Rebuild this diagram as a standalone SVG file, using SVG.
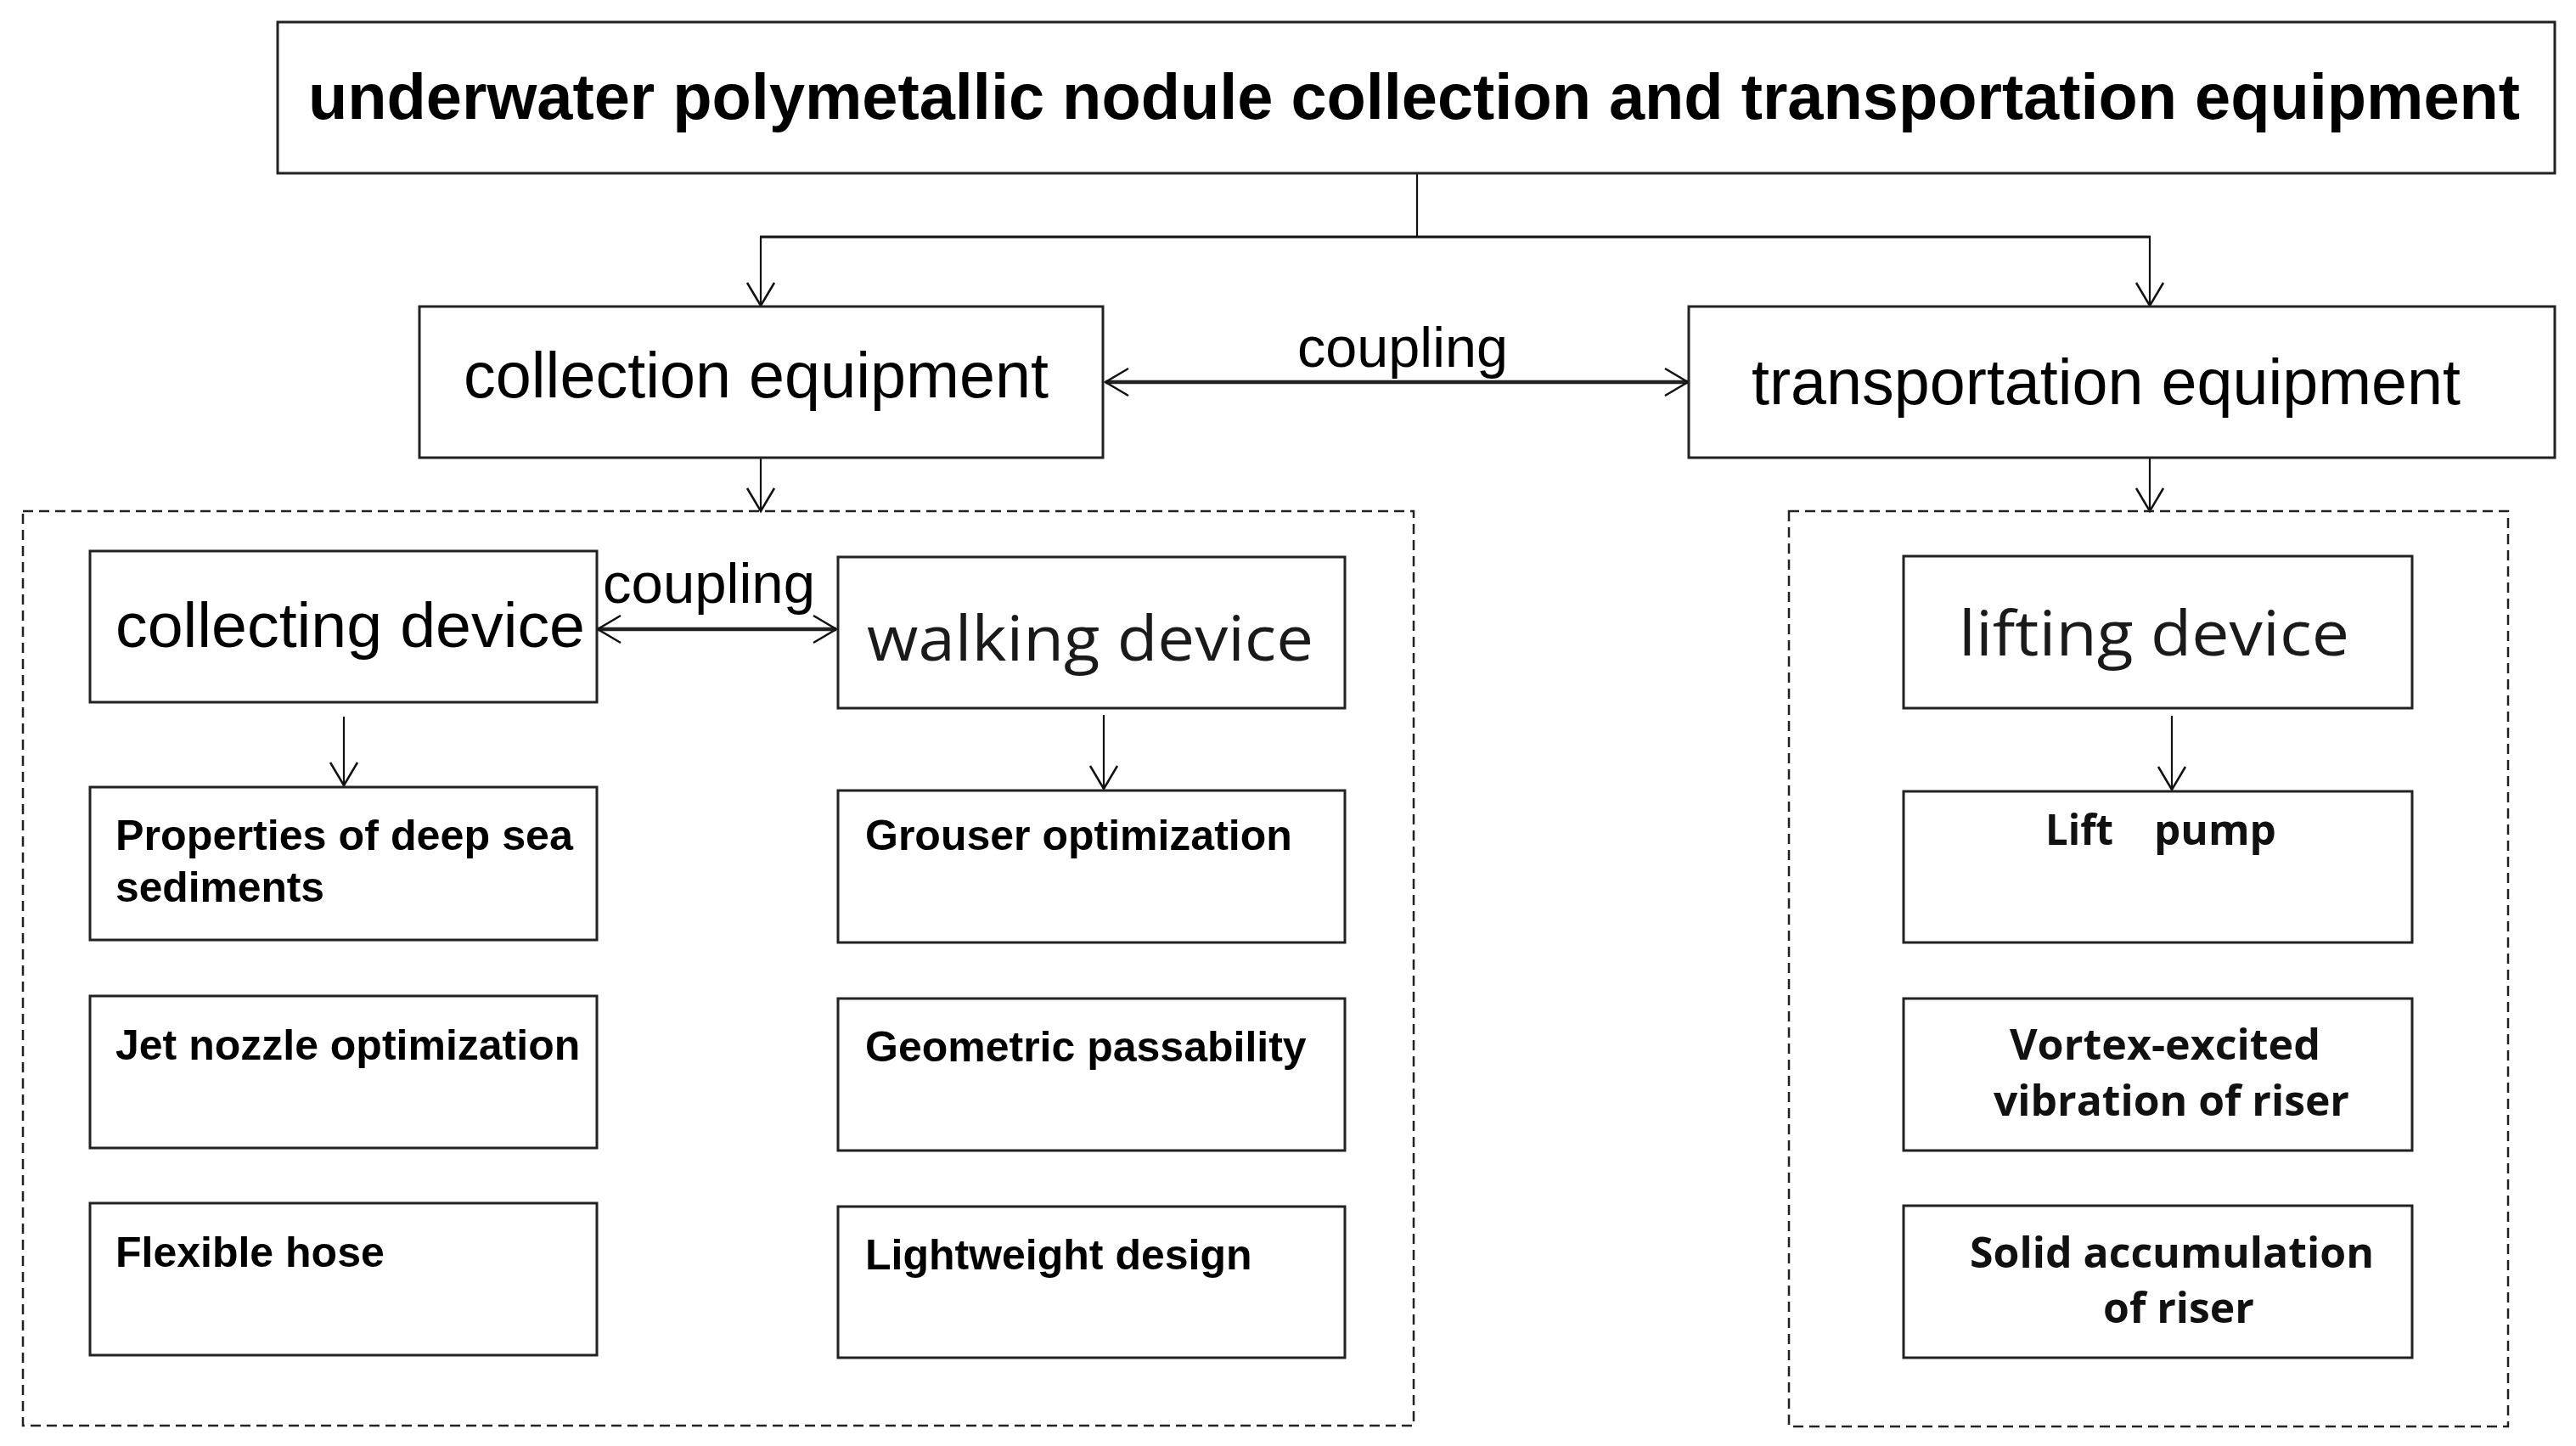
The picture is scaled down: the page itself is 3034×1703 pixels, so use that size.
<svg xmlns="http://www.w3.org/2000/svg" width="3034" height="1703" viewBox="0 0 3034 1703">
<defs>
<style>
.box{fill:#fff;stroke:#222;stroke-width:3}
.dash{fill:none;stroke:#222;stroke-width:2.5;stroke-dasharray:12 7}
.ln{fill:none;stroke:#111;stroke-width:2.2}
.thk{fill:none;stroke:#222;stroke-width:4.5}
.ar{font-family:"Liberation Sans",Arial,sans-serif;fill:#000}
.arb{font-family:"Liberation Sans",Arial,sans-serif;font-weight:bold;fill:#000}
.hum{font-family:"Open Sans","Noto Sans",sans-serif;fill:#1a1a1a}
.humb{font-family:"Open Sans","Noto Sans",sans-serif;font-weight:bold;fill:#111}
</style>
<marker id="ah" viewBox="0 0 32 36" markerWidth="32" markerHeight="36" refX="29" refY="18" orient="auto-start-reverse" markerUnits="userSpaceOnUse">
<path d="M2,2 L29,18 L2,34" fill="none" stroke="#111" stroke-width="2.5"/>
</marker>
</defs>
<rect width="3034" height="1703" fill="#fff"/>

<g id="connectors">
<line class="ln" x1="1669" y1="204" x2="1669" y2="279"/>
<line class="ln" style="stroke-width:3" x1="895" y1="279" x2="2533" y2="279"/>
<line class="ln" x1="896" y1="279" x2="896" y2="360" marker-end="url(#ah)"/>
<line class="ln" x1="2532" y1="279" x2="2532" y2="360" marker-end="url(#ah)"/>
<line class="thk" x1="1302" y1="450" x2="1988" y2="450" marker-start="url(#ah)" marker-end="url(#ah)"/>
<line class="ln" x1="896" y1="539" x2="896" y2="602" marker-end="url(#ah)"/>
<line class="ln" x1="2532" y1="540" x2="2532" y2="602" marker-end="url(#ah)"/>
<line class="thk" x1="704" y1="741" x2="985" y2="741" marker-start="url(#ah)" marker-end="url(#ah)"/>
<line class="ln" x1="405" y1="844" x2="405" y2="925" marker-end="url(#ah)"/>
<line class="ln" x1="1300" y1="842" x2="1300" y2="929" marker-end="url(#ah)"/>
<line class="ln" x1="2558" y1="843" x2="2558" y2="930" marker-end="url(#ah)"/>
<text class="ar" x="1528" y="432" font-size="67" textLength="248" lengthAdjust="spacingAndGlyphs">coupling</text>
<text class="ar" x="710" y="710" font-size="67" textLength="250" lengthAdjust="spacingAndGlyphs">coupling</text>
</g>

<g id="groups">
<rect class="dash" x="27" y="602" width="1638" height="1077"/>
<rect class="dash" x="2107" y="602" width="847" height="1078"/>
</g>

<g id="root">
<rect class="box" x="327" y="26" width="2682" height="178"/>
<text class="arb" x="363" y="140" font-size="76" textLength="2605" lengthAdjust="spacingAndGlyphs">underwater polymetallic nodule collection and transportation equipment</text>
</g>

<g id="collection-equipment">
<rect class="box" x="494" y="361" width="805" height="178"/>
<text class="ar" x="546" y="468" font-size="76" textLength="689" lengthAdjust="spacingAndGlyphs">collection equipment</text>
</g>

<g id="transportation-equipment">
<rect class="box" x="1989" y="361" width="1020" height="178"/>
<text class="ar" x="2063" y="476" font-size="76" textLength="835" lengthAdjust="spacingAndGlyphs">transportation equipment</text>
</g>

<g id="collecting-device">
<rect class="box" x="106" y="649" width="597" height="178"/>
<text class="ar" x="136" y="762" font-size="75" textLength="553" lengthAdjust="spacingAndGlyphs">collecting device</text>
</g>

<g id="walking-device">
<rect class="box" x="987" y="656" width="597" height="178"/>
<text class="hum" x="1021" y="778" font-size="74" textLength="526" lengthAdjust="spacingAndGlyphs">walking device</text>
</g>

<g id="properties">
<rect class="box" x="106" y="927" width="597" height="180"/>
<text class="arb" font-size="50"><tspan x="136" y="1001" textLength="539" lengthAdjust="spacingAndGlyphs">Properties of deep sea</tspan><tspan x="136" y="1062" textLength="246" lengthAdjust="spacingAndGlyphs">sediments</tspan></text>
</g>

<g id="jet-nozzle">
<rect class="box" x="106" y="1173" width="597" height="179"/>
<text class="arb" x="136" y="1248" font-size="50">Jet nozzle optimization</text>
</g>

<g id="flexible-hose">
<rect class="box" x="106" y="1417" width="597" height="179"/>
<text class="arb" x="136" y="1492" font-size="50">Flexible hose</text>
</g>

<g id="grouser">
<rect class="box" x="987" y="931" width="597" height="179"/>
<text class="arb" x="1019" y="1001" font-size="50">Grouser optimization</text>
</g>

<g id="geometric">
<rect class="box" x="987" y="1176" width="597" height="179"/>
<text class="arb" x="1019" y="1250" font-size="50">Geometric passability</text>
</g>

<g id="lightweight">
<rect class="box" x="987" y="1421" width="597" height="178"/>
<text class="arb" x="1019" y="1495" font-size="50">Lightweight design</text>
</g>

<g id="lifting-device">
<rect class="box" x="2242" y="655" width="599" height="179"/>
<text class="hum" x="2307" y="772" font-size="74" textLength="460" lengthAdjust="spacingAndGlyphs">lifting device</text>
</g>

<g id="lift-pump">
<rect class="box" x="2242" y="932" width="599" height="178"/>
<text class="humb" y="995" font-size="50"><tspan x="2409" textLength="80" lengthAdjust="spacingAndGlyphs">Lift</tspan><tspan x="2537" textLength="144" lengthAdjust="spacingAndGlyphs">pump</tspan></text>
</g>

<g id="vortex">
<rect class="box" x="2242" y="1176" width="599" height="179"/>
<text class="humb" font-size="50"><tspan x="2367" y="1248" textLength="366" lengthAdjust="spacingAndGlyphs">Vortex-excited</tspan><tspan x="2348" y="1314" textLength="419" lengthAdjust="spacingAndGlyphs">vibration of riser</tspan></text>
</g>

<g id="solid">
<rect class="box" x="2242" y="1420" width="599" height="179"/>
<text class="humb" font-size="50"><tspan x="2320" y="1493" textLength="476" lengthAdjust="spacingAndGlyphs">Solid accumulation</tspan><tspan x="2477" y="1558" textLength="178" lengthAdjust="spacingAndGlyphs">of riser</tspan></text>
</g>
</svg>
